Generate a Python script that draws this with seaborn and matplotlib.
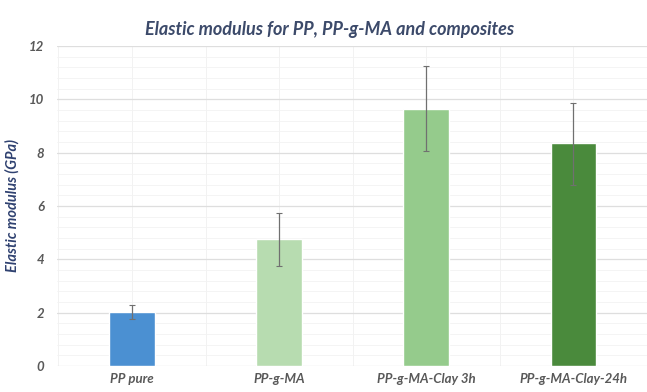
import matplotlib
matplotlib.use("Agg")
import matplotlib.pyplot as plt
import seaborn as sns
import pandas as pd
import numpy as np

categories = ["PP pure", "PP-g-MA", "PP-g-MA-Clay 3h", "PP-g-MA-Clay-24h"]
modulus = [2.02, 4.75, 9.65, 8.35]
err_low = [0.27, 1.0, 1.6, 1.55]
err_high = [0.28, 1.0, 1.6, 1.5]
colors = ["#4b90d2", "#b7dcb0", "#95cb8c", "#4a8a3c"]
yticks = [0, 2, 4, 6, 8, 10, 12]

sns.set_theme(style="white")
plt.rcParams['font.family'] = ['Lato', 'DejaVu Sans']

df = pd.DataFrame({"cat": categories, "val": modulus})

fig = plt.figure(figsize=(6.47, 3.92), dpi=100)
ax = fig.add_axes([0.088, 0.066, 0.912, 0.817])

sns.barplot(data=df, x="cat", y="val", hue="cat", palette=colors, width=0.31,
            dodge=False, legend=False, ax=ax, saturation=1, zorder=3)
ax.errorbar(np.arange(len(categories)), modulus, yerr=[err_low, err_high], fmt="none",
            ecolor="#707070", elinewidth=0.9, capsize=2.5, capthick=0.8, zorder=4)

ax.set_ylim(0, 12)
ax.set_xlim(-0.51, 3.43)
ax.set_yticks(yticks)
ax.set_yticklabels([str(t) for t in yticks])
ax.set_yticks(np.arange(0, 12.01, 0.4), minor=True)
ax.set_xticks(np.arange(-0.5, 3.6, 0.5), minor=True)
ax.grid(True, which="major", axis="y", color="#dedede", linewidth=0.9, zorder=0)
ax.grid(True, which="minor", axis="y", color="#f3f3f3", linewidth=0.6, zorder=0)
ax.grid(True, which="minor", axis="x", color="#f0f0f0", linewidth=0.6, zorder=0)
ax.grid(True, which="major", axis="x", color="#f0f0f0", linewidth=0.6, zorder=0)
for s in ax.spines.values():
    s.set_visible(False)
ax.tick_params(axis="both", which="both", length=0)
ax.tick_params(axis="y", pad=9)
ax.tick_params(axis="x", pad=5)
for lab in ax.get_yticklabels():
    lab.set_fontstyle("italic"); lab.set_fontweight("bold"); lab.set_color("#595959"); lab.set_fontsize(9.5)
for lab in ax.get_xticklabels():
    lab.set_fontstyle("italic"); lab.set_fontweight("bold"); lab.set_color("#595959"); lab.set_fontsize(9.5)

ax.set_xlabel("")
ax.set_ylabel("Elastic modulus (GPa)", fontsize=10.5, fontweight="bold", fontstyle="italic",
              color="#2f4170", labelpad=7)
fig.text(0.51, 0.925, "Elastic modulus for PP, PP-g-MA and composites", ha="center", va="center",
         fontsize=13, fontweight="bold", fontstyle="italic", color="#3c4a6a")

fig.savefig("out.png", dpi=100)
